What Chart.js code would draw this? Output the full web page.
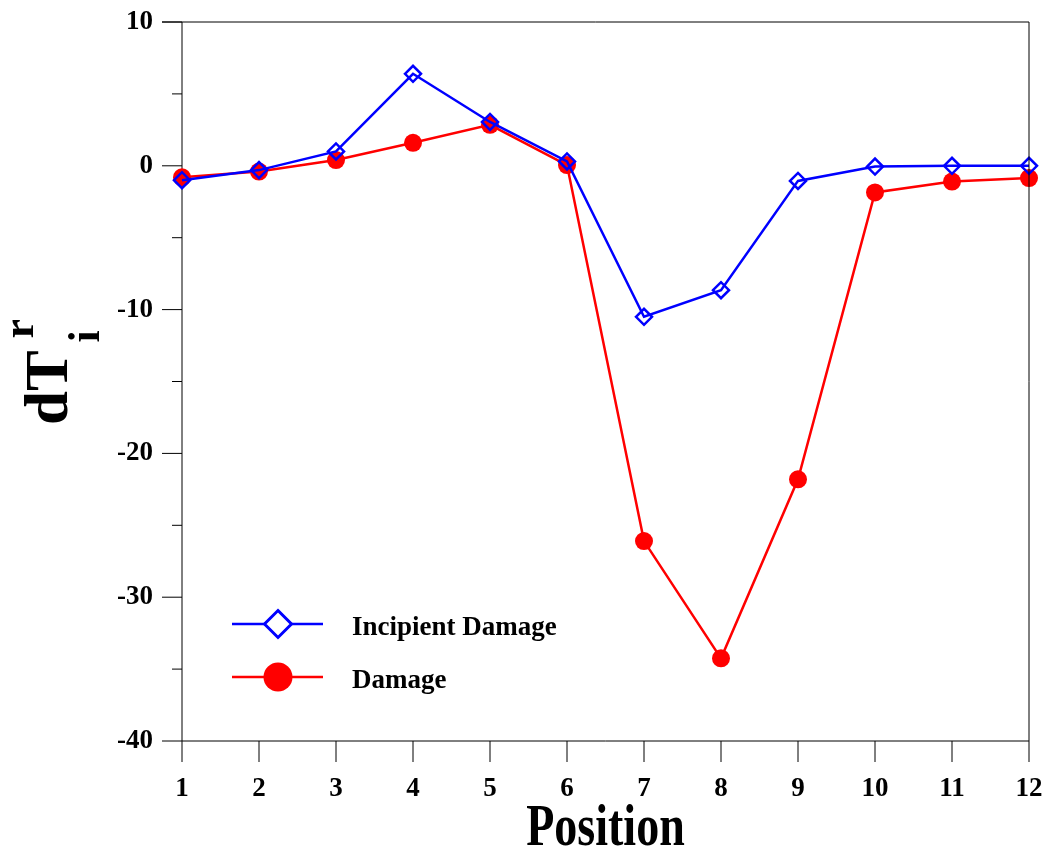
<!DOCTYPE html>
<html>
<head>
    <title>dT position chart</title>
    <script src="https://cdn.jsdelivr.net/npm/chart.js"></script>
    <style>
        body {
            margin: 0;
            background-color: #ffffff;
        }
        #wrap {
            width: 1047px;
            height: 849px;
            position: relative;
        }
    </style>
</head>
<body>
    <div id="wrap"><canvas id="posChart"></canvas></div>

    <script>
        // data
        var positions = ['1', '2', '3', '4', '5', '6', '7', '8', '9', '10', '11', '12'];
        var incipientValues = [-1.0, -0.3, 1.0, 6.4, 3.05, 0.3, -10.5, -8.65, -1.05, -0.05, 0.0, 0.0];
        var damageValues = [-0.8, -0.4, 0.4, 1.6, 2.85, 0.05, -26.1, -34.25, -21.8, -1.85, -1.1, -0.85];
        var seriesNames = ['Incipient Damage', 'Damage'];
        var yTicks = [10, 0, -10, -20, -30, -40];

        var serif = '"Liberation Serif", "Times New Roman", serif';

        // axes frame, tick marks, titles and legend
        var framePlugin = {
            id: 'frame',
            beforeDatasetsDraw: function(chart) {
                var ctx = chart.ctx;
                var a = chart.chartArea;
                var ys = chart.scales.y;
                var xs = chart.scales.x;
                ctx.save();
                ctx.strokeStyle = '#000';
                ctx.lineWidth = 1;
                ctx.beginPath();
                // left + bottom + top
                ctx.moveTo(a.left, a.top);
                ctx.lineTo(a.left, a.bottom);
                ctx.lineTo(a.right, a.bottom);
                ctx.moveTo(a.left - 20, a.top);
                ctx.lineTo(a.right, a.top);
                // y ticks, long every 10, short every 5
                for (var v = ys.min; v <= ys.max; v += 5) {
                    var py = ys.getPixelForValue(v);
                    var len = (v % 10 === 0) ? 20 : 10;
                    ctx.moveTo(a.left - len, py);
                    ctx.lineTo(a.left, py);
                }
                // x ticks
                for (var i = 0; i < positions.length; i++) {
                    var px = xs.getPixelForValue(i);
                    ctx.moveTo(px, a.bottom);
                    ctx.lineTo(px, a.bottom + 21);
                }
                ctx.stroke();
                ctx.restore();
            },
            afterDraw: function(chart) {
                var ctx = chart.ctx;
                var a = chart.chartArea;
                ctx.save();
                // right border is over the markers
                ctx.strokeStyle = '#000';
                ctx.lineWidth = 1;
                ctx.beginPath();
                ctx.moveTo(a.right, a.top);
                ctx.lineTo(a.right, a.bottom);
                ctx.stroke();

                ctx.fillStyle = '#000';
                // x title, slightly tall face
                ctx.save();
                ctx.translate((a.left + a.right) / 2, 845);
                ctx.scale(1, 1.3);
                ctx.font = 'bold 46px ' + serif;
                ctx.textAlign = 'center';
                ctx.textBaseline = 'alphabetic';
                ctx.fillText('Position', 0, 0);
                ctx.restore();

                // y title dT with sub i and sup r
                ctx.save();
                ctx.translate(67, 425);
                ctx.rotate(-Math.PI / 2);
                ctx.textAlign = 'left';
                ctx.textBaseline = 'alphabetic';
                ctx.font = 'bold 61px ' + serif;
                ctx.fillText('dT', 0, 0);
                var w = ctx.measureText('dT').width;
                ctx.font = 'bold 44px ' + serif;
                ctx.fillText('i', w + 8, 32);
                ctx.fillText('r', w + 12, -34);
                ctx.restore();

                // legend
                var ds = chart.data.datasets;
                var rows = [624, 677];
                for (var k = 0; k < ds.length; k++) {
                    var ly = rows[k];
                    ctx.strokeStyle = ds[k].borderColor;
                    ctx.lineWidth = 2.5;
                    ctx.beginPath();
                    ctx.moveTo(232, ly);
                    ctx.lineTo(323, ly);
                    ctx.stroke();
                    if (ds[k].pointStyle === 'rectRot') {
                        var r = 13.5;
                        ctx.fillStyle = '#fff';
                        ctx.beginPath();
                        ctx.moveTo(278, ly - r);
                        ctx.lineTo(278 + r, ly);
                        ctx.lineTo(278, ly + r);
                        ctx.lineTo(278 - r, ly);
                        ctx.closePath();
                        ctx.fill();
                        ctx.lineWidth = 3;
                        ctx.stroke();
                    } else {
                        ctx.fillStyle = ds[k].pointBackgroundColor;
                        ctx.beginPath();
                        ctx.arc(278, ly, 14.5, 0, Math.PI * 2);
                        ctx.fill();
                    }
                    ctx.fillStyle = '#000';
                    ctx.font = 'bold 27px ' + serif;
                    ctx.textAlign = 'left';
                    ctx.fillText(ds[k].label, 352, ly + 11);
                }
                ctx.restore();
            }
        };

        var ctx = document.getElementById('posChart').getContext('2d');
        var posChart = new Chart(ctx, {
            type: 'line',
            data: {
                labels: positions,
                datasets: [{
                    label: seriesNames[0],
                    data: incipientValues,
                    borderColor: '#0000ff',
                    borderWidth: 2.5,
                    pointStyle: 'rectRot',
                    pointRadius: 8,
                    pointBorderWidth: 2.5,
                    pointBorderColor: '#0000ff',
                    pointBackgroundColor: 'rgba(255,255,255,0)',
                    clip: false,
                    tension: 0
                }, {
                    label: seriesNames[1],
                    data: damageValues,
                    borderColor: '#ff0000',
                    borderWidth: 2.5,
                    pointStyle: 'circle',
                    pointRadius: 9,
                    pointBorderWidth: 0,
                    pointBackgroundColor: '#ff0000',
                    clip: false,
                    tension: 0
                }]
            },
            options: {
                responsive: true,
                maintainAspectRatio: false,
                animation: false,
                layout: {
                    autoPadding: false,
                    padding: { top: 22, right: 18, left: 0, bottom: 0 }
                },
                plugins: {
                    legend: { display: false },
                    title: { display: false },
                    tooltip: { enabled: false }
                },
                scales: {
                    x: {
                        type: 'category',
                        offset: false,
                        grid: { display: false },
                        border: { display: false },
                        ticks: {
                            color: '#000',
                            padding: 24,
                            maxRotation: 0,
                            autoSkip: false,
                            font: { family: serif, size: 27, weight: 'bold' }
                        },
                        afterFit: function(scale) {
                            scale.height = 108;
                            scale.paddingLeft = 0;
                            scale.paddingRight = 0;
                        }
                    },
                    y: {
                        min: -40,
                        max: 10,
                        grid: { display: false },
                        border: { display: false },
                        afterBuildTicks: function(scale) {
                            scale.ticks = yTicks.map(function(v) { return { value: v }; });
                        },
                        ticks: {
                            color: '#000',
                            padding: 21,
                            font: { family: serif, size: 27, weight: 'bold' }
                        },
                        afterFit: function(scale) {
                            scale.width = 182;
                            scale.paddingTop = 0;
                            scale.paddingBottom = 0;
                        }
                    }
                }
            },
            plugins: [framePlugin]
        });
    </script>
</body>
</html>
